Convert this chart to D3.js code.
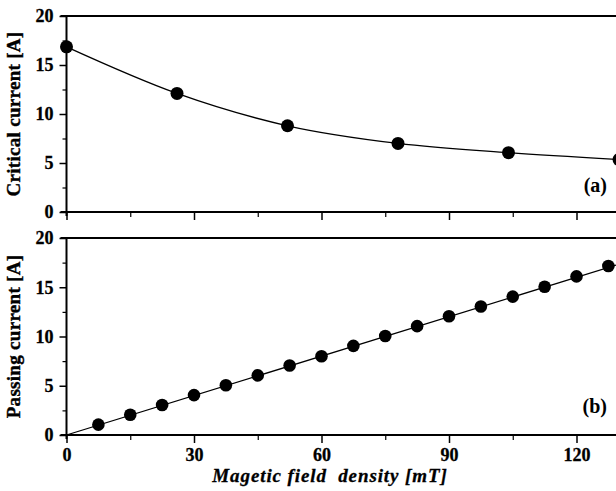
<!DOCTYPE html>
<html><head><meta charset="utf-8">
<script src="https://cdn.jsdelivr.net/npm/d3@7"></script>
<style>body{margin:0;background:#fff}svg{display:block}text{font-family:"Liberation Serif","Times New Roman",serif;font-weight:bold;fill:#000}</style>
</head><body>
<svg id="c" width="616" height="491"></svg>
<script>
// Data
const fieldA = [0, 26, 52, 78, 104, 130];
const criticalCurrent = [16.85, 12.1, 8.8, 7.0, 6.05, 5.35];
const fieldB = [7.5, 15, 22.5, 30, 37.5, 45, 52.5, 60, 67.5, 75, 82.5, 90, 97.5, 105, 112.5, 120, 127.5];
const passingCurrent = [1.05, 2.05, 3.05, 4.05, 5.05, 6.05, 7.05, 8.0, 9.05, 10.05, 11.05, 12.05, 13.05, 14.05, 15.05, 16.1, 17.15];
const passingLineX = [0, 140];
const passingLineY = [0, 18.67];
const xTickLabels = [0, 30, 60, 90, 120];
const yTickLabels = [0, 5, 10, 15, 20];

const svg = d3.select('#c');
const x = d3.scaleLinear().domain([0, 135]).range([66.5, 66.5 + 135 * 4.25]);
const yA = d3.scaleLinear().domain([0, 20]).range([212, 16]);
const yB = d3.scaleLinear().domain([0, 20]).range([435, 238]);

function styleText(sel) {
  sel.style('font-size', '18px').style('font-family', '"Liberation Serif",serif').style('font-weight', 'bold')
    .attr('stroke', '#000').attr('stroke-width', 0.3);
}

function panel(y, showXLabels) {
  const g = svg.append('g');
  g.append('line').attr('x1', x(0) - 6).attr('x2', 616).attr('y1', y(20)).attr('y2', y(20))
    .attr('stroke', '#000').attr('stroke-width', 2);
  const ya = d3.axisLeft(y).tickValues(yTickLabels).tickSize(7).tickPadding(6).tickFormat(d3.format('d'));
  const gy = g.append('g').attr('transform', `translate(${x(0)},0)`).call(ya);
  gy.select('.domain').attr('d', `M-0,${y(20)}V${y(0) + 4}`).attr('stroke-width', 2);
  gy.selectAll('.tick line').attr('stroke-width', 1.5);
  styleText(gy.selectAll('text'));
  const ym = d3.axisLeft(y).tickValues([2.5, 7.5, 12.5, 17.5]).tickSize(4).tickFormat('');
  const gym = g.append('g').attr('transform', `translate(${x(0)},0)`).call(ym);
  gym.select('.domain').remove();
  gym.selectAll('.tick line').attr('stroke-width', 1.2);
  const xa = d3.axisBottom(x).tickValues(xTickLabels).tickSize(8).tickPadding(5)
    .tickFormat(showXLabels ? d3.format('d') : '');
  const gx = g.append('g').attr('transform', `translate(0,${y(0)})`).call(xa);
  gx.select('.domain').attr('d', `M${x(0) - 6},0H616`).attr('stroke-width', 2);
  gx.selectAll('.tick line').attr('stroke-width', 1.5);
  styleText(gx.selectAll('text'));
  const xm = d3.axisBottom(x).tickValues([15, 45, 75, 105]).tickSize(5).tickFormat('');
  const gxm = g.append('g').attr('transform', `translate(0,${y(0)})`).call(xm);
  gxm.select('.domain').remove();
  gxm.selectAll('.tick line').attr('stroke-width', 1.2);
  return g;
}

panel(yA, false);
panel(yB, true);

// Panel (a) data
const ptsA = fieldA.map((v, i) => [v, criticalCurrent[i]]);
svg.append('path').datum(ptsA)
  .attr('d', d3.line().x(d => x(d[0])).y(d => yA(d[1])).curve(d3.curveMonotoneX))
  .attr('fill', 'none').attr('stroke', '#000').attr('stroke-width', 1.3);
svg.selectAll('.pa').data(ptsA).join('circle')
  .attr('cx', d => x(d[0])).attr('cy', d => yA(d[1])).attr('r', 6.5).attr('fill', '#000');

// Panel (b) data
const lineB = passingLineX.map((v, i) => [v, passingLineY[i]]);
svg.append('path').datum(lineB)
  .attr('d', d3.line().x(d => x(d[0])).y(d => yB(d[1])))
  .attr('fill', 'none').attr('stroke', '#000').attr('stroke-width', 1.3);
const ptsB = fieldB.map((v, i) => [v, passingCurrent[i]]);
svg.selectAll('.pb').data(ptsB).join('circle')
  .attr('cx', d => x(d[0])).attr('cy', d => yB(d[1])).attr('r', 6.3).attr('fill', '#000');

// Titles
svg.append('text').attr('transform', `translate(20,${(yA(0) + yA(20)) / 2}) rotate(-90)`)
  .attr('text-anchor', 'middle').style('font-size', '19px').attr('stroke', '#000').attr('stroke-width', 0.4)
  .attr('letter-spacing', '0.3').text('Critical current [A]');
svg.append('text').attr('transform', `translate(20,${(yB(0) + yB(20)) / 2}) rotate(-90)`)
  .attr('text-anchor', 'middle').style('font-size', '19px').attr('stroke', '#000').attr('stroke-width', 0.4)
  .attr('letter-spacing', '0.3').text('Passing current [A]');
svg.append('text').attr('x', 330).attr('y', 482).attr('text-anchor', 'middle')
  .style('font-size', '19px').style('font-style', 'italic').style('white-space', 'pre')
  .attr('stroke', '#000').attr('stroke-width', 0.3)
  .attr('letter-spacing', '0.9').text('Magetic field  density [mT]');
svg.append('text').attr('x', 607).attr('y', 192).attr('text-anchor', 'end').style('font-size', '20px').text('(a)');
svg.append('text').attr('x', 607).attr('y', 413).attr('text-anchor', 'end').style('font-size', '20px').text('(b)');
</script>
</body></html>
